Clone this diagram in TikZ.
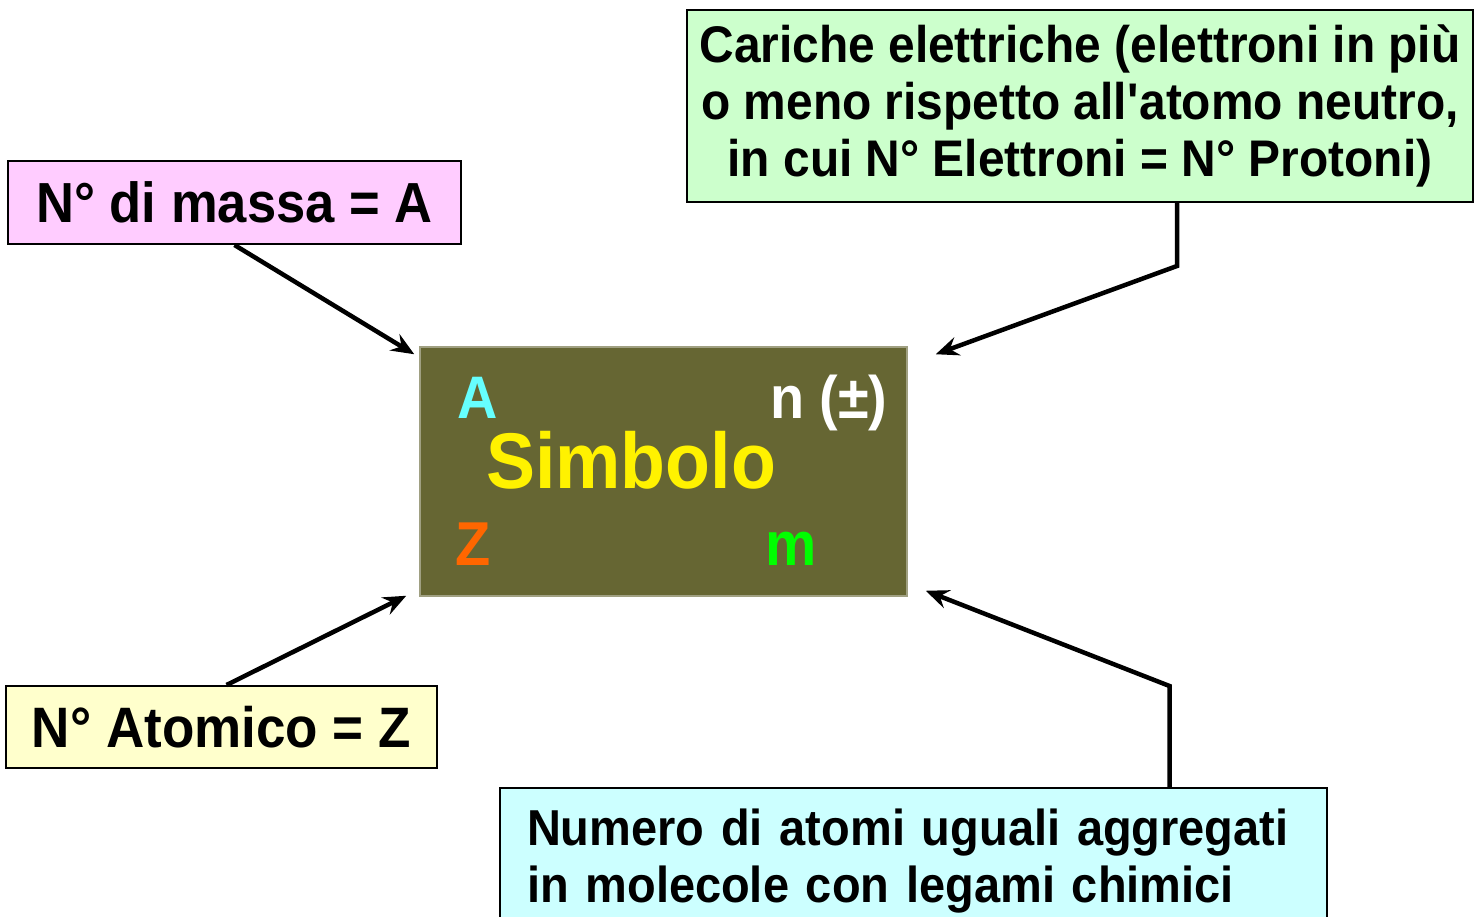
\documentclass[tikz,border=0pt]{standalone}
\usepackage{fontspec}
\setmainfont{Liberation Sans}[FakeStretch=0.93]
\usepackage{xcolor}
\usetikzlibrary{arrows.meta, positioning}
\definecolor{cPink}{RGB}{255,204,255}
\definecolor{cCream}{RGB}{255,255,204}
\definecolor{cMint}{RGB}{204,255,204}
\definecolor{cIce}{RGB}{204,255,255}
\definecolor{cOlive}{RGB}{102,102,51}
\definecolor{cOliveEdge}{RGB}{160,160,130}
\definecolor{cCyan}{RGB}{102,255,255}
\definecolor{cOrange}{RGB}{255,102,0}
\definecolor{cLime}{RGB}{0,255,0}
\tikzset{
	tagbox/.style  ={rectangle, draw=black, line width=2, inner sep=0pt, text centered, align=center},
	symbox/.style  ={rectangle, draw=cOliveEdge, line width=1.5, fill=cOlive, minimum width=487, minimum height=249},
	symtext/.style ={anchor=base west, inner sep=0pt, font=\fontsize{60}{62}\selectfont\bfseries},
	pointer/.style ={-{Stealth[length=23, width=19, inset=8]}, line width=4.5, line join=miter},
}
\begin{document}
\begin{tikzpicture}[x=1pt, y=-1pt, font=\bfseries]
	\clip (0,0) rectangle (1474,917);
	\node[symbox] (sym) at (663.5,471.5) {};
	\node[symtext, text=cCyan] (mA) at (457,418) {A};
	\node[symtext, text=white] (mN) at (770,418) {n (±)};
	\node[symtext, text=yellow, font=\fontsize{79}{81}\selectfont\bfseries] (mS) at (486,488) {Simbolo};
	\node[symtext, text=cOrange, font=\fontsize{62}{64}\selectfont\bfseries] (mZ) at (455,565) {Z};
	\node[symtext, text=cLime, font=\fontsize{62}{64}\selectfont\bfseries] (mM) at (765,565) {m};
	\node[tagbox, fill=cPink, minimum width=453, minimum height=83, font=\fontsize{56.5}{60}\selectfont\bfseries] (mass) at (234.5,202.5) {N° di massa = A};
	\node[tagbox, fill=cCream, minimum width=431, minimum height=82, font=\fontsize{57}{60}\selectfont\bfseries] (atomic) at (221.5,727) {N° Atomico = Z};
	\node[tagbox, fill=cMint, minimum width=786, minimum height=192, font=\fontsize{51.5}{57}\selectfont\bfseries] (charge) at (1080,106) {Cariche elettriche (elettroni in più\\o meno rispetto all\textquotesingle atomo neutro,\\ in cui N° Elettroni = N° Protoni)};
	\node[tagbox, fill=cIce, anchor=north west, text width=773, align=left, inner xsep=27, inner ysep=21, font=\fontsize{50.5}{57}\selectfont\bfseries] (cluster) at (499,787) {Numero di atomi uguali aggregati\\in molecole con legami chimici};
	\draw[pointer] (mass.south) -- ([shift={(-5,8)}]sym.north west);
	\draw[pointer] ([xshift=97pt]charge.south) -- ++(0,63) -- ([shift={(28,8)}]sym.north east);
	\draw[pointer] ([xshift=5pt]atomic.north) -- ([shift={(-13,-1)}]sym.south west);
	\draw[pointer] ([xshift=256pt]cluster.north) -- ++(0,-101) -- ([shift={(18,-6)}]sym.south east);
\end{tikzpicture}
\end{document}
